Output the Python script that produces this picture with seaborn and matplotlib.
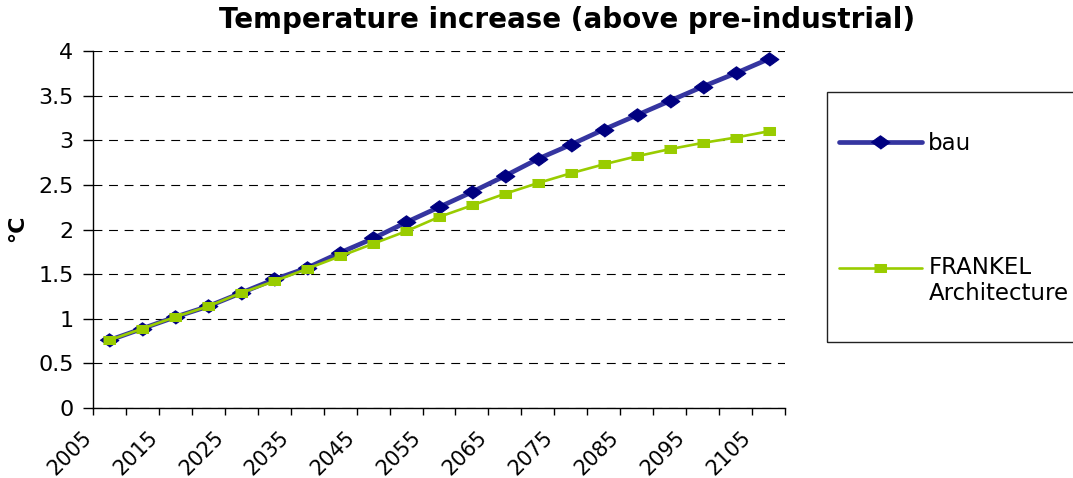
import numpy as np
import pandas as pd
import matplotlib
matplotlib.use("Agg")
import matplotlib.pyplot as plt
from matplotlib.legend_handler import HandlerLine2D
from matplotlib.patches import Rectangle
from matplotlib.transforms import ScaledTranslation
import seaborn as sns

# Warming above pre-industrial levels, in degrees C
years = list(range(2005, 2110, 5))
bau = [0.76, 0.89, 1.02, 1.14, 1.29, 1.44, 1.57, 1.74, 1.90,
       2.08, 2.25, 2.42, 2.60, 2.79, 2.95, 3.12, 3.28, 3.44,
       3.60, 3.75, 3.91]
frankel = [0.76, 0.89, 1.02, 1.14, 1.29, 1.42, 1.56, 1.70, 1.84,
           1.98, 2.14, 2.27, 2.40, 2.52, 2.63, 2.73, 2.82, 2.90,
           2.97, 3.03, 3.10]
y_ticks = [0, 0.5, 1, 1.5, 2, 2.5, 3, 3.5, 4]
y_tick_labels = ["0", "0.5", "1", "1.5", "2", "2.5", "3", "3.5", "4"]
x_tick_labels = [str(y) for y in years[::2]]

sns.set_theme(style="white")
plt.rcParams["font.family"] = ["DejaVu Sans"]
plt.rcParams["text.color"] = "black"
plt.rcParams["xtick.color"] = "black"
plt.rcParams["ytick.color"] = "black"
plt.rcParams["xtick.labelcolor"] = "black"
plt.rcParams["ytick.labelcolor"] = "black"

W, H = 1073, 478
fig = plt.figure(figsize=(W / 100, H / 100), dpi=100)
ax = fig.add_axes([93 / W, 70 / H, 692 / W, 357 / H])

df = pd.DataFrame({"pos": np.arange(len(years)), "bau": bau, "frankel": frankel})

diamond = [(-1, 0), (0, 0.72), (1, 0), (0, -0.72)]
box = [(-1, -0.75), (1, -0.75), (1, 0.75), (-1, 0.75)]

sns.lineplot(data=df, x="pos", y="bau", ax=ax, color="#3535a0", lw=3.4,
             marker=diamond, ms=13.5, mfc="#000080", mec="#000080",
             label="bau", zorder=3)
sns.lineplot(data=df, x="pos", y="frankel", ax=ax, color="#99cc00", lw=1.9,
             marker=box, ms=8, mfc="#99cc00", mec="#99cc00",
             label="FRANKEL\nArchitecture", zorder=4)

handles, labels = ax.get_legend_handles_labels()
ax.get_legend().remove()

# Axes styling
ax.set_xlim(-0.5, len(years) - 0.5)
ax.set_ylim(0, 4)
ax.set_yticks(y_ticks)
ax.set_yticklabels(y_tick_labels, fontsize=16)
ax.set_xticks(np.arange(0, len(years), 2))
ax.set_xticklabels(x_tick_labels, fontsize=15, rotation=45,
                   ha="right", va="center", rotation_mode="anchor")
ax.set_xticks(np.arange(-0.5, len(years), 1), minor=True)
ax.tick_params(axis="x", which="major", length=0, pad=19)
ax.tick_params(axis="x", which="minor", length=5, width=1, color="black",
               direction="out", bottom=True)
ax.tick_params(axis="y", length=7, width=1, color="black", direction="out",
               left=True, pad=7)
shift = ScaledTranslation(-21 / 100, 0, fig.dpi_scale_trans)
for lab in ax.get_xticklabels():
    lab.set_transform(lab.get_transform() + shift)

ax.set_xlabel("")
ax.set_ylabel("")
ax.yaxis.grid(True, linestyle=(0, (8, 6)), color="black", lw=0.8)
ax.set_axisbelow(True)
for side in ("top", "right"):
    ax.spines[side].set_visible(False)
for side in ("left", "bottom"):
    ax.spines[side].set_color("black")
    ax.spines[side].set_linewidth(1)

fig.text(567 / W, 1 - 20 / H, "Temperature increase (above pre-industrial)",
         ha="center", va="center", fontsize=20, fontweight="bold")
fig.text(17 / W, 1 - 228 / H, "°C", ha="center", va="center", rotation=90,
         fontsize=16, fontweight="bold")


class FirstLineHandler(HandlerLine2D):
    """Aligns the legend line with the first line of a multi-line label."""

    def __init__(self, offset, **kw):
        super().__init__(**kw)
        self.offset = offset

    def create_artists(self, legend, orig_handle, xdescent, ydescent,
                       width, height, fontsize, trans):
        artists = super().create_artists(legend, orig_handle, xdescent,
                                         ydescent, width, height, fontsize,
                                         trans)
        for a in artists:
            a.set_ydata(np.asarray(a.get_ydata(), float) + self.offset * fontsize)
        return artists


fig.add_artist(Rectangle((827 / W, 1 - 342 / H), 0.3, 250 / H,
                         transform=fig.transFigure, fill=False,
                         ec="#222222", lw=1))
fig.legend(handles, labels, loc="upper left",
           bbox_to_anchor=(839 / W, 1 - 132 / H), frameon=False,
           fontsize=16.5, borderpad=0, borderaxespad=0, handlelength=3.6,
           handletextpad=0.3, labelspacing=4.4,
           handler_map={handles[1]: FirstLineHandler(0.6)})

fig.savefig("out.png", dpi=100)
